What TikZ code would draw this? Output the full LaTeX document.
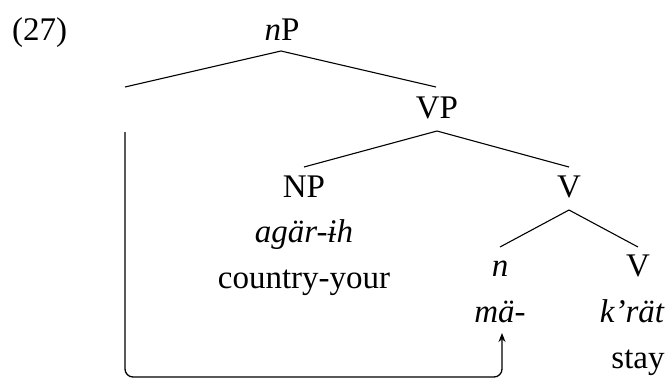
\documentclass[tikz,border=0pt]{standalone}
\usepackage{fontspec}
\setmainfont{Liberation Serif}
\usetikzlibrary{arrows.meta}
\begin{document}
\begin{tikzpicture}[x=1pt,y=-1pt,
  lab/.style={anchor=base,inner sep=0pt,font=\fontsize{33}{39}\selectfont},
  edge/.style={line width=1.1pt},
  mv/.style={line width=1.3pt,rounded corners=8pt,-{Stealth[length=9pt,width=7pt]}}]
\useasboundingbox (0,0) rectangle (667,381);
\node[lab,anchor=base west] (ex) at (12,40) {(27)};
\node[lab] (nP) at (282,40) {\textit{n}P};
\node[lab] (VP) at (437,118) {VP};
\node[lab] (NP) at (304,197) {NP};
\node[lab] (V1) at (569,197) {V};
\node[lab] (agar) at (304,242) {\textit{agär-ɨh}};
\node[lab] (cy) at (304,288) {country-your};
\node[lab] (n) at (500,276) {\textit{n}};
\node[lab] (V2) at (638,276) {V};
\node[lab] (ma) at (500,322) {\textit{mä-}};
\node[lab,anchor=base east] (krat) at (665,322) {\textit{k’rät}};
\node[lab] (stay) at (638,368) {stay};
% edge coordinates
\coordinate (nPb) at (281,51);
\coordinate (e0) at (125,87);
\coordinate (VPt) at (436,87);
\coordinate (VPb) at (437,131);
\coordinate (NPt) at (304,167);
\coordinate (V1t) at (569,167);
\coordinate (V1b) at (569,210);
\coordinate (nt) at (500,247);
\coordinate (V2t) at (638,247);
\coordinate (mvs) at (125,132);
\coordinate (mvc1) at (125,377);
\coordinate (mvc2) at (502,377);
\coordinate (mvt) at (502,333);
\draw[edge] (e0) -- (nPb) -- (VPt);
\draw[edge] (NPt) -- (VPb) -- (V1t);
\draw[edge] (nt) -- (V1b) -- (V2t);
\draw[mv] (mvs) -- (mvc1) -- (mvc2) -- (mvt);
\end{tikzpicture}
\end{document}
